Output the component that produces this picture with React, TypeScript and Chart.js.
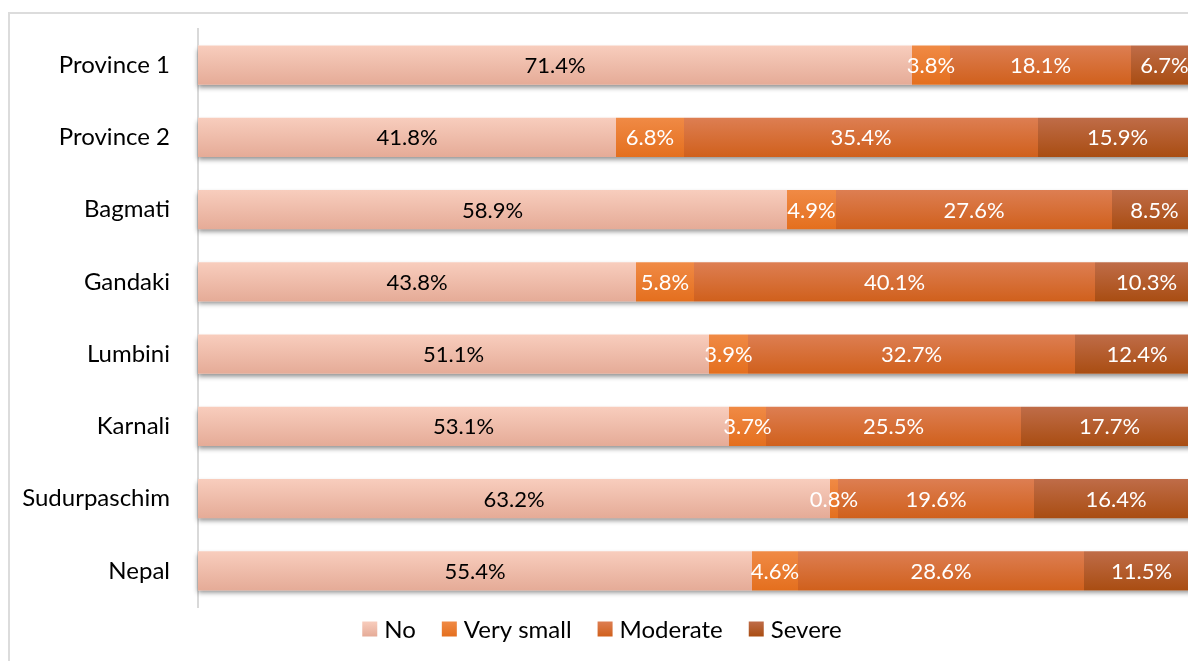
import React, { useEffect, useRef } from "react";
import { Chart, registerables } from "chart.js";

Chart.register(...registerables);

const categories = ["Province 1", "Province 2", "Bagmati", "Gandaki", "Lumbini", "Karnali", "Sudurpaschim", "Nepal"];
const seriesNames = ["No", "Very small", "Moderate", "Severe"];
const noValues = [71.4, 41.8, 58.9, 43.8, 51.1, 53.1, 63.2, 55.4];
const verySmallValues = [3.8, 6.8, 4.9, 5.8, 3.9, 3.7, 0.8, 4.6];
const moderateValues = [18.1, 35.4, 27.6, 40.1, 32.7, 25.5, 19.6, 28.6];
const severeValues = [6.7, 15.9, 8.5, 10.3, 12.4, 17.7, 16.4, 11.5];

const gradTop = ["#F8CDBD", "#F08A45", "#DD7E52", "#BF6C48"];
const gradBottom = ["#E5AB97", "#E46F1E", "#D0601C", "#A94D12"];
const solid = ["#F2BFAC", "#EC7B30", "#D86C33", "#B65A2A"];
const labelColors = ["#000000", "#ffffff", "#ffffff", "#ffffff"];

const FONT = 'Lato, "Open Sans", sans-serif';
const CAT_PCT = 0.54;

export default function App() {
  const ref = useRef<HTMLCanvasElement>(null);

  useEffect(() => {
    const canvas = ref.current!;
    const makeBg = (k: number) => (c: any) => {
      const chart = c.chart;
      const ys = chart.scales && chart.scales.y;
      if (!ys || typeof c.dataIndex !== "number" || c.type !== "data") return solid[k];
      const center = ys.getPixelForValue(c.dataIndex);
      const band = (ys.bottom - ys.top) / categories.length;
      const half = (band * CAT_PCT) / 2;
      if (!isFinite(center) || !isFinite(half) || half <= 0) return solid[k];
      const g = chart.ctx.createLinearGradient(0, center - half, 0, center + half);
      g.addColorStop(0, gradTop[k]);
      g.addColorStop(1, gradBottom[k]);
      return g;
    };

    const decor = {
      id: "decor",
      beforeDatasetsDraw(chart: any) {
        const ctx = chart.ctx;
        const meta = chart.getDatasetMeta(0);
        const xs = chart.scales.x;
        ctx.save();
        ctx.shadowColor = "rgba(0,0,0,0.45)";
        ctx.shadowBlur = 5;
        ctx.shadowOffsetY = 3;
        ctx.fillStyle = "#ffffff";
        meta.data.forEach((el: any) => {
          const left = xs.getPixelForValue(0);
          const right = xs.getPixelForValue(100);
          ctx.fillRect(left, el.y - el.height / 2, right - left, el.height);
        });
        ctx.restore();
      },
      afterDatasetsDraw(chart: any) {
        const ctx = chart.ctx;
        ctx.save();
        ctx.font = `22px ${FONT}`;
        ctx.textAlign = "center";
        ctx.textBaseline = "middle";
        chart.data.datasets.forEach((ds: any, i: number) => {
          const meta = chart.getDatasetMeta(i);
          meta.data.forEach((el: any, j: number) => {
            const v = ds.data[j] as number;
            ctx.fillStyle = labelColors[i];
            ctx.fillText(v.toFixed(1) + "%", (el.x + el.base) / 2, el.y + 1);
          });
        });
        ctx.restore();
      },
      afterDraw(chart: any) {
        const ctx = chart.ctx;
        ctx.save();
        ctx.font = `24px ${FONT}`;
        ctx.textBaseline = "middle";
        ctx.textAlign = "left";
        const box = 15;
        const gapIn = 7;
        const gapOut = 26;
        const widths = seriesNames.map((n) => ctx.measureText(n).width);
        const total =
          widths.reduce((a, w) => a + box + gapIn + w, 0) + gapOut * (seriesNames.length - 1);
        let x = 602 - total / 2;
        const cy = 629;
        seriesNames.forEach((n, k) => {
          const g = ctx.createLinearGradient(0, cy - box / 2, 0, cy + box / 2);
          g.addColorStop(0, gradTop[k]);
          g.addColorStop(1, gradBottom[k]);
          ctx.fillStyle = g;
          ctx.fillRect(x, cy - box / 2, box, box);
          x += box + gapIn;
          ctx.fillStyle = "#000000";
          ctx.fillText(n, x, cy + 1);
          x += widths[k] + gapOut;
        });
        ctx.restore();
      },
    };

    const valueLists = [noValues, verySmallValues, moderateValues, severeValues];

    const chart = new Chart(canvas, {
      type: "bar",
      data: {
        labels: categories,
        datasets: seriesNames.map((name, k) => ({
          label: name,
          data: valueLists[k],
          backgroundColor: makeBg(k),
          borderWidth: 0,
          categoryPercentage: CAT_PCT,
          barPercentage: 1,
        })),
      },
      options: {
        indexAxis: "y",
        responsive: false,
        animation: false,
        layout: { padding: { left: 0, right: 20, top: 29, bottom: 54 } },
        scales: {
          x: { stacked: true, min: 0, max: 100, display: false },
          y: {
            stacked: true,
            grid: { display: false, drawTicks: false },
            border: { display: true, color: "#D9D9D9", width: 2 },
            ticks: { color: "#000000", font: { family: FONT, size: 24 }, padding: 28 },
            afterFit: (s: any) => {
              s.width = 198;
              s.paddingTop = 0;
              s.paddingBottom = 0;
            },
          },
        },
        plugins: {
          tooltip: { enabled: false },
          legend: { display: false },
        },
      },
      plugins: [decor],
    });
    return () => chart.destroy();
  }, []);

  return (
    <div style={{ position: "fixed", left: 0, top: 0, width: 1188, height: 661, overflow: "hidden", background: "#fff" }}>
      <div
        style={{
          position: "absolute",
          left: 8,
          top: 12,
          width: 1400,
          height: 900,
          border: "2px solid #DCDCDC",
          boxSizing: "border-box",
        }}
      />
      <canvas ref={ref} width={1218} height={661} style={{ position: "absolute", left: 0, top: 0 }} />
    </div>
  );
}
